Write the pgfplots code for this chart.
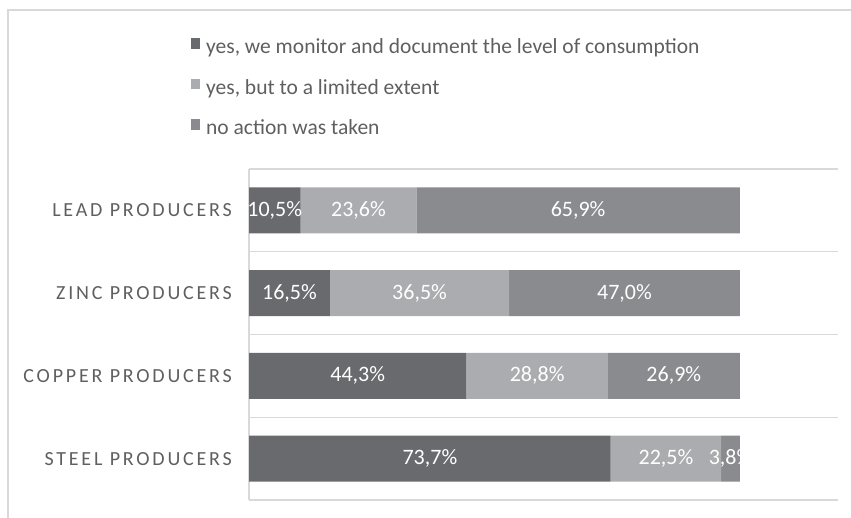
\documentclass[border=0pt]{standalone}
\usepackage{fontspec}
\setmainfont{Carlito}
\newfontfamily\capsfont[LetterSpace=14]{Carlito}
\usepackage{pgfplots}
\pgfplotsset{compat=1.18}

\definecolor{cDark}{RGB}{105,106,110}
\definecolor{cLight}{RGB}{171,172,175}
\definecolor{cMid}{RGB}{138,139,143}
\definecolor{gridc}{RGB}{217,217,217}
\definecolor{txtc}{RGB}{95,95,95}

\pgfplotsset{
  sqlegend/.style={legend image code/.code={\fill[##1,draw=none] (0pt,0.5pt) rectangle (9pt,11pt);}},
}

\begin{document}
\begin{tikzpicture}
\useasboundingbox (0,0) rectangle (851pt,517pt);
% outer chart frame (only top and left edges show)
\draw[gridc, line width=1.5pt] (8pt,-20pt) -- (8pt,507pt) -- (880pt,507pt);
\begin{axis}[
  at={(249pt,17pt)}, anchor=south west,
  scale only axis, width=589pt, height=331pt,
  xbar stacked, bar width=46pt,
  xmin=0, xmax=120, ymin=-0.5, ymax=3.5,
  axis line style={draw=none},
  xtick=\empty,
  extra x ticks={0}, extra x tick labels={},
  extra x tick style={xmajorgrids=true, major grid style={gridc, line width=1.5pt}},
  ytick={0,1,2,3},
  yticklabels={STEEL PRODUCERS, COPPER PRODUCERS, ZINC PRODUCERS, LEAD PRODUCERS},
  minor ytick={-0.5,0.5,1.5,2.5,3.5},
  yminorgrids=true,
  minor grid style={gridc, line width=1.5pt},
  major tick length=0pt, minor tick length=0pt,
  yticklabel style={font=\capsfont\fontsize{20}{24}\selectfont, text=txtc, inner sep=0pt},
  yticklabel shift=17pt,
  nodes near coords={\pgfmathprintnumber[fixed,fixed zerofill,precision=1,use comma,assume math mode=true]{\pgfplotspointmeta}\%},
  every node near coord/.append style={anchor=center,
    font=\fontsize{22}{26}\selectfont, text=white, inner sep=0pt},
  legend style={at={(axis description cs:-0.1036,1.402)}, anchor=north west,
    draw=none, fill=none, font=\fontsize{21.5}{25}\selectfont, text=txtc,
    nodes={inner sep=0pt, text height=14pt, text depth=5pt}, row sep=20pt,
    /tikz/every odd column/.append style={column sep=6pt}},
  legend cell align=left,
]
\addplot[fill=cDark, draw=none, sqlegend] coordinates {(73.7,0) (44.3,1) (16.5,2) (10.5,3)};
\addlegendentry{yes, we monitor and document the level of consumption}
\addplot[fill=cLight, draw=none, sqlegend] coordinates {(22.5,0) (28.8,1) (36.5,2) (23.6,3)};
\addlegendentry{yes, but to a limited extent}
\addplot[fill=cMid, draw=none, sqlegend] coordinates {(3.8,0) (26.9,1) (47.0,2) (65.9,3)};
\addlegendentry{no action was taken}
\end{axis}
\end{tikzpicture}
\end{document}
